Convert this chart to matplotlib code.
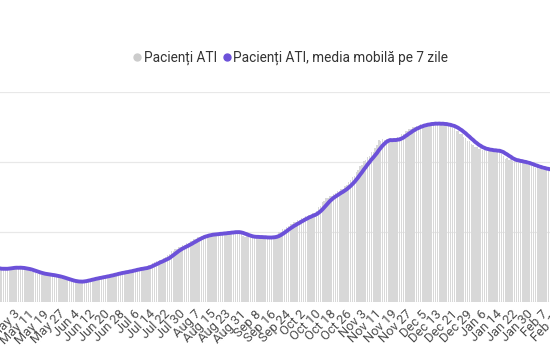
import numpy as np
import pandas as pd
import matplotlib
matplotlib.use("Agg")
import matplotlib.pyplot as plt
from matplotlib.lines import Line2D

plt.rcParams['font.family'] = ['Roboto', 'DejaVu Sans']

# Daily ATI patients (from 20 Apr 2020)
start_date = "2020-04-20"
pacienti_ati = [
    248, 243, 246, 240, 238, 231,
    235, 230, 241, 245, 240, 247, 244,
    249, 243, 247, 242, 245, 239, 236,
    232, 228, 226, 217, 211, 210, 203,
    202, 196, 199, 194, 195, 191, 189,
    190, 184, 180, 178, 171, 167, 162,
    158, 155, 150, 147, 143, 141, 146,
    143, 150, 149, 157, 158, 165, 164,
    170, 169, 176, 174, 181, 180, 187,
    185, 192, 191, 199, 198, 207, 206,
    214, 211, 216, 213, 221, 220, 229,
    228, 237, 235, 240, 238, 244, 241,
    248, 250, 264, 267, 280, 283, 292,
    291, 302, 300, 311, 318, 336, 342,
    361, 367, 379, 380, 392, 393, 405,
    405, 419, 422, 436, 439, 453, 453,
    464, 465, 475, 476, 482, 478, 485,
    481, 488, 484, 490, 487, 493, 489,
    496, 493, 500, 496, 503, 499, 504,
    498, 494, 485, 472, 466, 469, 464,
    468, 463, 466, 462, 465, 460, 464,
    459, 462, 455, 460, 463, 468, 474,
    480, 497, 503, 520, 525, 539, 540,
    554, 556, 569, 571, 585, 587, 601,
    603, 614, 613, 624, 623, 634, 633,
    652, 677, 689, 714, 725, 740, 742,
    757, 759, 774, 776, 791, 793, 809,
    810, 826, 836, 859, 869, 893, 903,
    929, 941, 968, 980, 1007, 1013, 1037,
    1043, 1068, 1074, 1098, 1118, 1155, 1150,
    1163, 1158, 1163, 1152, 1157, 1146, 1161,
    1161, 1177, 1176, 1197, 1199, 1220, 1218,
    1235, 1233, 1249, 1248, 1260, 1256, 1268,
    1263, 1275, 1268, 1277, 1270, 1279, 1272,
    1279, 1269, 1276, 1267, 1274, 1265, 1267,
    1254, 1256, 1242, 1245, 1225, 1221, 1200,
    1197, 1176, 1173, 1152, 1149, 1128, 1125,
    1104, 1108, 1095, 1099, 1086, 1090, 1081,
    1088, 1079, 1086, 1077, 1083, 1072, 1078,
    1054, 1046, 1021, 1026, 1014, 1019, 1007,
    1011, 1001, 1007, 996, 1002, 991, 993,
    979, 982, 968, 970, 959, 964, 952,
    957, 946, 952, 940, 945, 933, 938,
    926, 930, 921, 925, 915, 919, 910,
]

dates = pd.date_range(start_date, periods=len(pacienti_ati), freq="D")
serie = pd.Series(pacienti_ati, index=dates)
media_7 = serie.rolling(7, min_periods=1).mean()

tick_start = pd.Timestamp("2020-05-03")
pos = np.arange(len(dates))
tick_pos = [i for i, d in enumerate(dates) if d >= tick_start and (d - tick_start).days % 8 == 0]
tick_labels = [f"{dates[i]:%b} {dates[i].day}" for i in tick_pos]

# the visible picture is a crop of a wider chart: axes run past both edges
W, H = 550, 362
ax_l, ax_r = -55, 605
px_per_day = 1.886
fig = plt.figure(figsize=(W / 100, H / 100), dpi=100)
ax = fig.add_axes([ax_l / W, 60 / H, (ax_r - ax_l) / W, 210 / H])

ax.bar(pos, serie.values, width=0.75, color="#d8d8d8", zorder=2)
ax.plot(pos, media_7.values, color="#6c51d9", lw=2.8, zorder=3, solid_capstyle="round")

ax.set_xlim(6 + (ax_l + 0.2) / px_per_day, 6 + (ax_r + 0.2) / px_per_day)
ax.set_ylim(0, 1500)
ax.set_yticks([0, 500, 1000, 1500])
ax.grid(axis="y", color="#e8e8e8", lw=0.9, zorder=0)
ax.set_axisbelow(True)
ax.set_xticks(tick_pos)
ax.set_xticklabels(tick_labels, rotation=45, ha="right", rotation_mode="anchor",
                   fontsize=9.3, color="#4d4d4d")
ax.tick_params(axis="x", length=0, pad=4)
ax.tick_params(axis="y", length=0, labelleft=False)
for s in ax.spines.values():
    s.set_visible(False)

handles = [
    Line2D([], [], marker="o", ls="", color="#cccccc", markersize=5),
    Line2D([], [], marker="o", ls="", color="#6c51d9", markersize=5),
]
fig.legend(handles, ["Pacienți ATI", "Pacienți ATI, media mobilă pe 7 zile"],
           loc="center", bbox_to_anchor=(290 / W, 1 - 58 / H), ncol=2, frameon=False,
           fontsize=9.8, handletextpad=0.1, columnspacing=0.3, handlelength=0.8,
           labelcolor="#333333")

fig.savefig("out.png", dpi=100)
